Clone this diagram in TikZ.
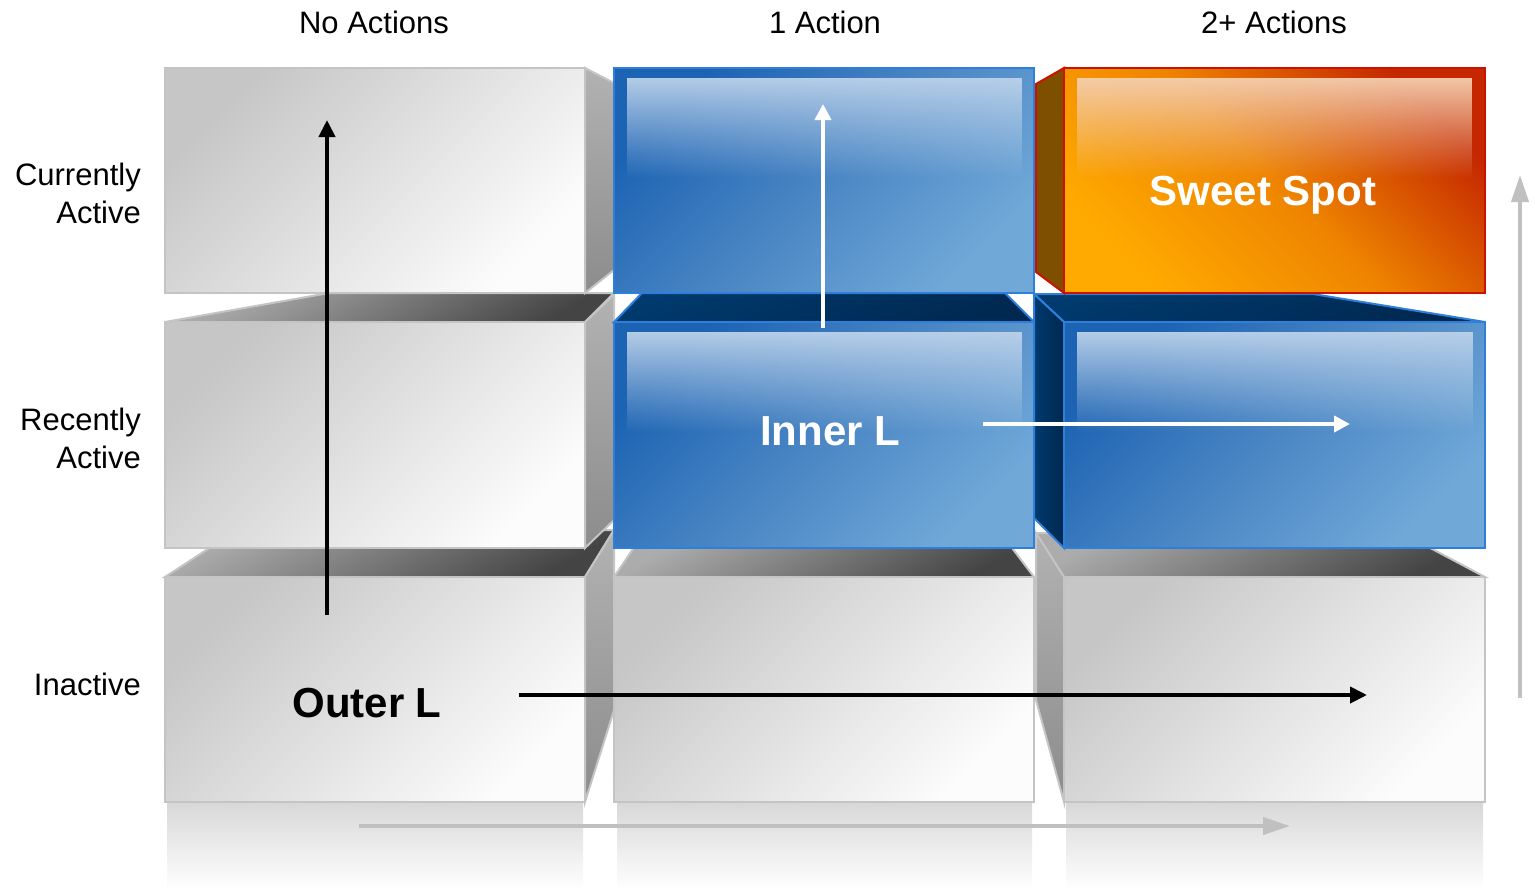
\documentclass[tikz,border=0pt]{standalone}
\usepackage{fontspec}
\setmainfont{Liberation Sans}
\usetikzlibrary{arrows.meta,fadings}
\definecolor{gborder}{HTML}{C4C4C4}
\definecolor{bborder}{HTML}{2E7FD9}
\definecolor{oborder}{HTML}{CC1100}
\definecolor{brownside}{HTML}{7F4F00}
\definecolor{arrowgray}{HTML}{C0C0C0}
\definecolor{gfrontA}{HTML}{C6C6C6}
\definecolor{gfrontB}{HTML}{FCFCFC}
\definecolor{gsideA}{HTML}{B2B2B2}
\definecolor{gsideB}{HTML}{8C8C8C}
\definecolor{gtopA}{HTML}{ACACAC}
\definecolor{gtopB}{HTML}{444444}
\definecolor{navyA}{HTML}{003A6E}
\definecolor{navyB}{HTML}{002850}
\definecolor{blueA}{HTML}{1C63B3}
\definecolor{blueM}{HTML}{4A86C4}
\definecolor{blueB}{HTML}{70A8D8}
\definecolor{bgloss}{HTML}{BCD2EA}
\definecolor{orA}{HTML}{C52800}
\definecolor{orM}{HTML}{EE8400}
\definecolor{orB}{HTML}{FFAA00}
\definecolor{ogloss}{HTML}{F4CFB0}
\definecolor{reflA}{HTML}{D8D8D8}
\tikzfading[name=glossfade, top color=transparent!5, middle color=transparent!30, bottom color=transparent!100]
\tikzset{
  grayfront/.style={draw=gborder, line width=2pt, top color=gfrontA, bottom color=gfrontB, shading angle=45},
  grayside/.style={draw=gborder, line width=2pt, top color=gsideA, bottom color=gsideB},
  graytop/.style={draw=gborder, line width=2pt, top color=gtopA, bottom color=gtopB, shading angle=30},
  navytop/.style={draw=bborder, line width=2pt, top color=navyA, bottom color=navyB, shading angle=20},
  navyside/.style={draw=bborder, line width=2pt, left color=navyA, right color=navyB},
  bluefront/.style={draw=bborder, line width=2pt, top color=blueA, bottom color=blueB, middle color=blueM, shading angle=45},
  bluegloss/.style={fill=bgloss, path fading=glossfade},
  orangefront/.style={draw=oborder, line width=2.5pt, top color=orA, bottom color=orB, middle color=orM, shading angle=-45},
  orangegloss/.style={fill=ogloss, path fading=glossfade},
  brownface/.style={draw=oborder, line width=2pt, fill=brownside},
  refl/.style={top color=reflA, bottom color=white},
  hdr/.style={font=\fontsize{31}{38}\selectfont, text=black, inner sep=0pt},
  rowlab/.style={font=\fontsize{31}{38}\selectfont, text=black, align=right, inner sep=0pt, anchor=east},
  biglab/.style={font=\fontsize{42}{48}\selectfont\bfseries, inner sep=0pt, anchor=base},
  blackarrow/.style={line width=4pt, black, -{Triangle[length=17pt,width=16pt]}},
  whitearrow/.style={line width=4pt, white, -{Triangle[length=16pt,width=16pt]}},
  grayarrow/.style={line width=4pt, arrowgray, -{Triangle[length=27pt,width=17pt]}},
}
\begin{document}
\begin{tikzpicture}[x=1pt,y=-1pt]
\useasboundingbox (0,0) rectangle (1535,889);
% reflections
\shade[refl] (167,803) rectangle (583,889);
\shade[refl] (617,803) rectangle (1032,889);
\shade[refl] (1066,803) rectangle (1483,889);
\coordinate (ga0) at (359,826);
\coordinate (ga1) at (1290,826);
\draw[grayarrow] (ga0) -- (ga1);
% row 3 (inactive)
\draw[graytop] (165,577) -- (237,530) -- (614,530) -- (585,577) -- cycle;
\draw[grayside] (585,577) -- (614,530) -- (614,710) -- (585,802) -- cycle;
\draw[graytop] (614,577) -- (639,540) -- (1006,540) -- (1034,577) -- cycle;
\draw[graytop] (1064,577) -- (1036,533) -- (1402,533) -- (1485,577) -- cycle;
\draw[grayside] (1036,533) -- (1064,577) -- (1064,802) -- (1036,700) -- cycle;
\draw[grayfront] (165,577) rectangle (585,802);
\draw[grayfront] (614,577) rectangle (1034,802);
\draw[grayfront] (1064,577) rectangle (1485,802);
% row 2 (recently active)
\draw[graytop] (165,322) -- (329,293) -- (614,293) -- (585,322) -- cycle;
\draw[grayside] (585,322) -- (614,295) -- (614,520) -- (585,548) -- cycle;
\draw[navytop] (614,322) -- (642,293) -- (1005,293) -- (1034,322) -- cycle;
\draw[navytop] (1064,322) -- (1034,294) -- (1313,294) -- (1485,322) -- cycle;
\draw[navyside] (1034,294) -- (1064,322) -- (1064,548) -- (1034,518) -- cycle;
\draw[grayfront] (165,322) rectangle (585,548);
\draw[bluefront] (614,322) rectangle (1034,548);
\fill[bluegloss] (627,332) rectangle (1022,432);
\draw[bluefront] (1064,322) rectangle (1485,548);
\fill[bluegloss] (1077,332) rectangle (1473,432);
% row 1 (currently active)
\draw[grayside] (585,68) -- (614,83) -- (614,270) -- (585,293) -- cycle;
\draw[brownface] (1036,84) -- (1064,68) -- (1064,293) -- (1036,272) -- cycle;
\draw[grayfront] (165,68) rectangle (585,293);
\draw[bluefront] (614,68) rectangle (1034,293);
\fill[bluegloss] (627,78) rectangle (1022,178);
\draw[orangefront] (1064,68) rectangle (1485,293);
\fill[orangegloss] (1077,78) rectangle (1472,178);
% headers
\node[hdr, anchor=base] (hna) at (374,33) {No Actions};
\node[hdr, anchor=base] (h1a) at (825,33) {1 Action};
\node[hdr, anchor=base] (h2a) at (1274,33) {2+ Actions};
% row labels
\node[rowlab] (rca) at (141,193) {Currently\\Active};
\node[rowlab] (rra) at (141,438) {Recently\\Active};
\node[rowlab] (rin) at (141,684) {Inactive};
% big labels
\node[biglab, text=white] (sweet) at (1263,205) {Sweet Spot};
\node[biglab, text=white] (inner) at (830,445) {Inner L};
\node[biglab, text=black] (outer) at (367,717) {Outer L};
% arrows
\coordinate (bv0) at (327,615);
\coordinate (bv1) at (327,120);
\draw[blackarrow] (bv0) -- (bv1);
\coordinate (bh0) at (519,695);
\coordinate (bh1) at (1367,695);
\draw[blackarrow] (bh0) -- (bh1);
\coordinate (wv0) at (823,328);
\coordinate (wv1) at (823,104);
\draw[whitearrow] (wv0) -- (wv1);
\coordinate (wh0) at (983,424);
\coordinate (wh1) at (1350,424);
\draw[whitearrow] (wh0) -- (wh1);
\coordinate (gv0) at (1520,698);
\coordinate (gv1) at (1520,175);
\draw[grayarrow] (gv0) -- (gv1);
\end{tikzpicture}
\end{document}
